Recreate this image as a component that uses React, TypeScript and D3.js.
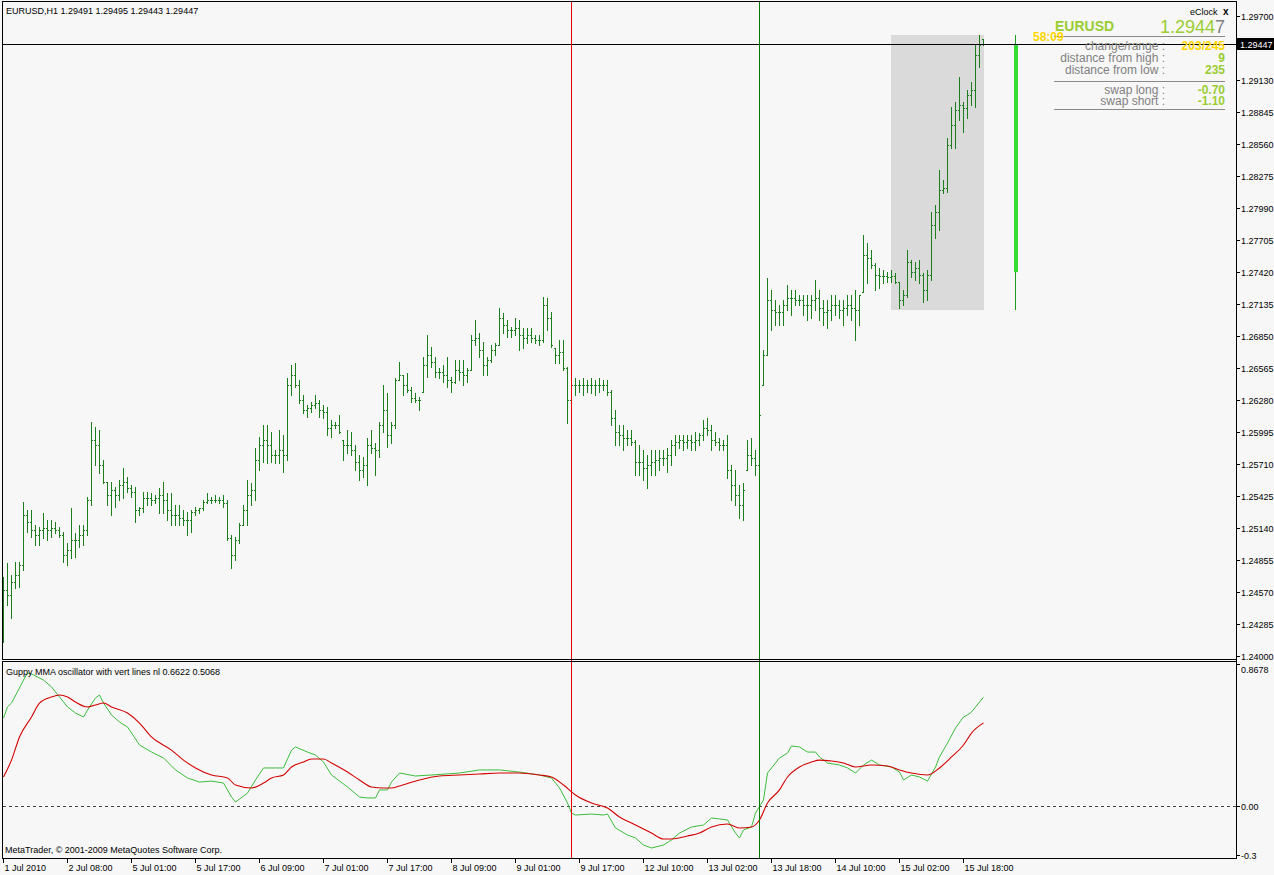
import React from 'react';
import * as d3 from 'd3';

// ---------------- DATA ----------------
const opens = [
1.24229,1.24586,1.24541,1.24657,1.24719,1.24809,1.25254,1.25192,1.25120,1.25076,
1.25120,1.25138,1.25120,1.25138,1.25120,1.25076,1.24898,1.24942,1.25031,1.25031,
1.25076,1.25120,1.25388,1.25922,1.25878,1.25700,1.25548,1.25432,1.25477,1.25432,
1.25521,1.25548,1.25494,1.25459,1.25299,1.25316,1.25405,1.25405,1.25388,1.25405,
1.25432,1.25388,1.25299,1.25254,1.25254,1.25227,1.25210,1.25210,1.25281,1.25299,
1.25316,1.25370,1.25388,1.25388,1.25388,1.25388,1.25361,1.25049,1.24898,1.25031,
1.25165,1.25299,1.25432,1.25477,1.25744,1.25878,1.25922,1.25878,1.25789,1.25789,
1.25833,1.25789,1.26412,1.26502,1.26412,1.26279,1.26190,1.26207,1.26234,1.26252,
1.26190,1.26172,1.26029,1.26056,1.26056,1.25922,1.25878,1.25878,1.25833,1.25726,
1.25655,1.25700,1.25878,1.25851,1.25833,1.26056,1.26190,1.25967,1.26056,1.26457,
1.26502,1.26412,1.26368,1.26296,1.26279,1.26350,1.26591,1.26680,1.26617,1.26528,
1.26528,1.26502,1.26457,1.26439,1.26546,1.26528,1.26502,1.26546,1.26813,1.26831,
1.26724,1.26591,1.26635,1.26724,1.26769,1.27009,1.26947,1.26903,1.26903,1.26920,
1.26858,1.26831,1.26858,1.26831,1.26813,1.26813,1.27125,1.27009,1.26742,1.26680,
1.26706,1.26564,1.26279,1.26412,1.26412,1.26412,1.26412,1.26412,1.26412,1.26412,
1.26412,1.26412,1.26350,1.26118,1.25994,1.25967,1.25940,1.25940,1.25904,1.25726,
1.25726,1.25673,1.25700,1.25726,1.25744,1.25762,1.25762,1.25789,1.25878,1.25904,
1.25922,1.25904,1.25922,1.25904,1.25922,1.25967,1.26029,1.26012,1.25922,1.25904,
1.25878,1.25878,1.25655,1.25521,1.25432,1.25343,1.25655,1.25789,1.25762,1.25700,
1.26412,1.26680,1.27170,1.27081,1.27063,1.27063,1.27125,1.27187,1.27187,1.27170,
1.27170,1.27125,1.27125,1.27170,1.27187,1.27099,1.27063,1.27081,1.27125,1.27125,
1.27081,1.27099,1.27125,1.27099,1.27081,1.27241,1.27571,1.27544,1.27482,1.27393,
1.27384,1.27384,1.27375,1.27384,1.27330,1.27170,1.27214,1.27508,1.27419,1.27455,
1.27393,1.27259,1.27393,1.27838,1.27954,1.28150,1.28168,1.28551,1.28729,1.28863,
1.28907,1.28880,1.28997,1.29041,1.29353,1.29491];

const highs = [
1.24701,1.24826,1.24719,1.24835,1.24835,1.25370,1.25299,1.25299,1.25165,1.25147,
1.25272,1.25210,1.25210,1.25192,1.25147,1.25102,1.25005,1.25316,1.25093,1.25165,
1.25165,1.25414,1.26083,1.26038,1.26012,1.25744,1.25548,1.25548,1.25503,1.25566,
1.25673,1.25593,1.25521,1.25503,1.25325,1.25459,1.25459,1.25450,1.25432,1.25494,
1.25548,1.25450,1.25450,1.25343,1.25343,1.25299,1.25281,1.25299,1.25325,1.25316,
1.25388,1.25450,1.25414,1.25432,1.25414,1.25432,1.25388,1.25076,1.25058,1.25183,
1.25343,1.25566,1.25539,1.25851,1.25949,1.26056,1.26056,1.25994,1.25833,1.26012,
1.25967,1.26475,1.26591,1.26608,1.26457,1.26323,1.26234,1.26261,1.26323,1.26279,
1.26234,1.26216,1.26101,1.26083,1.26145,1.25922,1.26012,1.25994,1.25878,1.25789,
1.25771,1.25940,1.26012,1.25895,1.26083,1.26412,1.26341,1.26083,1.26475,1.26617,
1.26502,1.26519,1.26394,1.26341,1.26306,1.26662,1.26858,1.26751,1.26662,1.26564,
1.26591,1.26662,1.26484,1.26635,1.26635,1.26635,1.26564,1.26858,1.26992,1.26876,
1.26795,1.26662,1.26769,1.26786,1.27099,1.27054,1.26992,1.26929,1.27009,1.26992,
1.26920,1.26920,1.26920,1.26858,1.26858,1.27196,1.27187,1.27063,1.26742,1.26813,
1.26813,1.26573,1.26502,1.26475,1.26457,1.26475,1.26457,1.26475,1.26457,1.26475,
1.26457,1.26457,1.26368,1.26190,1.26056,1.26056,1.26012,1.26012,1.25922,1.25878,
1.25833,1.25789,1.25833,1.25833,1.25833,1.25833,1.25851,1.25922,1.25967,1.25967,
1.25967,1.25967,1.25967,1.25994,1.25985,1.26101,1.26118,1.26056,1.25994,1.25940,
1.25922,1.25967,1.25700,1.25655,1.25521,1.25539,1.25922,1.25940,1.25833,1.26190,
1.26724,1.27366,1.27259,1.27170,1.27125,1.27170,1.27304,1.27259,1.27259,1.27214,
1.27214,1.27214,1.27214,1.27348,1.27259,1.27170,1.27170,1.27214,1.27214,1.27170,
1.27170,1.27214,1.27214,1.27259,1.27214,1.27749,1.27678,1.27615,1.27499,1.27455,
1.27437,1.27419,1.27437,1.27410,1.27330,1.27259,1.27615,1.27526,1.27508,1.27526,
1.27410,1.27437,1.27954,1.28016,1.28328,1.28239,1.28613,1.28889,1.28934,1.29157,
1.28934,1.29041,1.29112,1.29442,1.29531,1.29495];

const lows = [
1.24122,1.24452,1.24336,1.24603,1.24612,1.24764,1.25102,1.25058,1.24987,1.24987,
1.25049,1.25031,1.25058,1.25093,1.25058,1.24835,1.24809,1.24871,1.24880,1.24969,
1.24987,1.25076,1.25343,1.25700,1.25628,1.25539,1.25343,1.25254,1.25325,1.25388,
1.25405,1.25459,1.25414,1.25192,1.25254,1.25281,1.25343,1.25343,1.25361,1.25272,
1.25272,1.25210,1.25165,1.25165,1.25165,1.25165,1.25076,1.25102,1.25254,1.25272,
1.25299,1.25361,1.25361,1.25370,1.25361,1.25325,1.25031,1.24782,1.24853,1.25005,
1.25165,1.25165,1.25343,1.25388,1.25655,1.25726,1.25717,1.25726,1.25717,1.25717,
1.25637,1.25744,1.26323,1.26394,1.26252,1.26163,1.26127,1.26172,1.26207,1.26127,
1.26118,1.25967,1.25949,1.26029,1.25985,1.25744,1.25806,1.25789,1.25655,1.25566,
1.25593,1.25521,1.25806,1.25611,1.25771,1.25994,1.25860,1.25895,1.26029,1.26457,
1.26323,1.26350,1.26261,1.26261,1.26190,1.26350,1.26484,1.26573,1.26484,1.26475,
1.26439,1.26394,1.26350,1.26430,1.26457,1.26412,1.26439,1.26546,1.26769,1.26662,
1.26502,1.26502,1.26617,1.26680,1.26769,1.26876,1.26840,1.26840,1.26858,1.26724,
1.26742,1.26786,1.26795,1.26786,1.26769,1.26795,1.26903,1.26751,1.26608,1.26608,
1.26546,1.26074,1.26190,1.26323,1.26350,1.26323,1.26350,1.26341,1.26323,1.26350,
1.26368,1.26323,1.26056,1.25878,1.25878,1.25833,1.25878,1.25878,1.25611,1.25611,
1.25566,1.25494,1.25611,1.25611,1.25655,1.25700,1.25637,1.25700,1.25789,1.25851,
1.25833,1.25851,1.25833,1.25833,1.25878,1.25922,1.25967,1.25833,1.25878,1.25833,
1.25833,1.25584,1.25388,1.25343,1.25227,1.25210,1.25655,1.25700,1.25611,1.25611,
1.26412,1.26680,1.26903,1.26947,1.26947,1.26947,1.27081,1.27036,1.27125,1.27125,
1.27036,1.26992,1.27009,1.27081,1.26992,1.26947,1.26920,1.26992,1.27036,1.27009,
1.26947,1.27036,1.26992,1.26813,1.26947,1.27241,1.27321,1.27455,1.27259,1.27277,
1.27321,1.27330,1.27330,1.27321,1.27099,1.27125,1.27196,1.27375,1.27348,1.27321,
1.27152,1.27170,1.27348,1.27722,1.27794,1.28123,1.28132,1.28524,1.28524,1.28774,
1.28667,1.28791,1.28907,1.28889,1.29246,1.29443];

const closes = [
1.24586,1.24541,1.24657,1.24719,1.24809,1.25254,1.25192,1.25120,1.25076,1.25120,
1.25138,1.25120,1.25138,1.25120,1.25076,1.24898,1.24942,1.25031,1.25031,1.25076,
1.25120,1.25388,1.25922,1.25878,1.25700,1.25548,1.25432,1.25477,1.25432,1.25521,
1.25548,1.25494,1.25459,1.25299,1.25316,1.25405,1.25405,1.25388,1.25405,1.25432,
1.25388,1.25299,1.25254,1.25254,1.25227,1.25210,1.25210,1.25281,1.25299,1.25316,
1.25370,1.25388,1.25388,1.25388,1.25388,1.25361,1.25049,1.24898,1.25031,1.25165,
1.25299,1.25432,1.25477,1.25744,1.25878,1.25922,1.25878,1.25789,1.25789,1.25833,
1.25789,1.26412,1.26502,1.26412,1.26279,1.26190,1.26207,1.26234,1.26252,1.26190,
1.26172,1.26029,1.26056,1.26056,1.25994,1.25878,1.25878,1.25833,1.25726,1.25655,
1.25700,1.25878,1.25851,1.25833,1.26056,1.26190,1.25967,1.26056,1.26457,1.26502,
1.26412,1.26368,1.26296,1.26279,1.26279,1.26591,1.26680,1.26617,1.26528,1.26528,
1.26502,1.26457,1.26439,1.26546,1.26528,1.26502,1.26546,1.26813,1.26831,1.26724,
1.26591,1.26635,1.26724,1.26769,1.27009,1.26947,1.26903,1.26903,1.26920,1.26858,
1.26831,1.26858,1.26831,1.26813,1.26813,1.27125,1.27009,1.26769,1.26680,1.26706,
1.26564,1.26279,1.26412,1.26412,1.26412,1.26412,1.26412,1.26412,1.26412,1.26412,
1.26412,1.26350,1.26118,1.25994,1.25967,1.25940,1.25940,1.25904,1.25726,1.25726,
1.25673,1.25700,1.25726,1.25744,1.25762,1.25762,1.25789,1.25878,1.25904,1.25922,
1.25904,1.25922,1.25904,1.25922,1.25967,1.26029,1.26012,1.25922,1.25904,1.25878,
1.25878,1.25655,1.25521,1.25432,1.25343,1.25477,1.25789,1.25762,1.25700,1.26145,
1.26680,1.27170,1.27081,1.27063,1.27063,1.27125,1.27187,1.27187,1.27170,1.27170,
1.27125,1.27125,1.27170,1.27187,1.27099,1.27063,1.27081,1.27125,1.27125,1.27081,
1.27099,1.27125,1.27099,1.27081,1.27214,1.27571,1.27544,1.27482,1.27393,1.27384,
1.27384,1.27375,1.27384,1.27330,1.27170,1.27214,1.27508,1.27419,1.27455,1.27393,
1.27259,1.27393,1.27838,1.27954,1.28150,1.28168,1.28551,1.28729,1.28863,1.28907,
1.28880,1.28997,1.29041,1.29353,1.29442,1.29447];

const timeLabels = ['1 Jul 2010','2 Jul 08:00','5 Jul 01:00','5 Jul 17:00','6 Jul 09:00','7 Jul 01:00',
  '7 Jul 17:00','8 Jul 09:00','9 Jul 01:00','9 Jul 17:00','12 Jul 10:00','13 Jul 02:00',
  '13 Jul 18:00','14 Jul 10:00','15 Jul 02:00','15 Jul 18:00'];
const timeLabelIdx = [0,16,32,48,64,80,96,112,128,144,160,176,192,208,224,240];

// price-scale labels (the 1.29415 label sits hidden under the current-price box)
const priceTicks = [1.29700,1.29130,1.28845,1.28560,1.28275,1.27990,1.27705,1.27420,1.27135,
  1.26850,1.26565,1.26280,1.25995,1.25710,1.25425,1.25140,1.24855,1.24570,1.24285,1.24000];

// Guppy MMA oscillator (green fast, red slow), read at bar indices
const greenIdx = [0,1,2,4,5,6,7,10,12,14,16,18,20,21,23,24,25,27,29,31,34,37,40,43,46,49,52,55,57,58,
  61,63,65,68,70,72,73,76,78,80,82,86,89,91,93,94,96,97,99,103,107,114,119,124,129,134,137,139,141,142,
  143,147,150,151,153,156,158,160,162,165,167,169,172,175,177,179,181,183,184,185,187,188,190,191,194,196,197,199,201,203,
  204,206,209,211,213,215,217,219,222,224,225,227,229,231,233,234,236,238,240,241,242,244,245];
const greenVals = [0.537,0.604,0.628,0.72,0.768,0.811,0.805,0.768,0.726,0.665,0.604,0.567,0.543,0.585,0.659,0.677,0.628,0.555,0.512,0.482,
  0.372,0.329,0.293,0.22,0.171,0.146,0.152,0.14,0.055,0.024,0.079,0.159,0.232,0.232,0.232,0.341,0.36,0.329,0.311,0.268,
  0.189,0.116,0.055,0.049,0.049,0.098,0.098,0.146,0.201,0.183,0.189,0.201,0.22,0.22,0.207,0.189,0.171,0.11,0.018,-0.043,
  -0.055,-0.049,-0.055,-0.049,-0.134,-0.177,-0.195,-0.238,-0.256,-0.238,-0.207,-0.165,-0.128,-0.116,-0.073,-0.079,-0.085,-0.165,-0.195,-0.146,
  -0.128,-0.043,0.037,0.201,0.293,0.323,0.366,0.36,0.329,0.329,0.299,0.262,0.25,0.232,0.201,0.25,0.28,0.25,0.238,0.207,
  0.159,0.189,0.177,0.152,0.238,0.299,0.384,0.476,0.543,0.555,0.573,0.634,0.6622];
const redIdx = [0,2,4,7,9,12,14,16,18,21,23,25,27,31,34,37,42,45,48,52,56,58,62,65,67,70,72,75,77,80,
  82,86,89,92,95,97,99,104,109,114,119,124,129,134,137,140,143,147,151,154,157,162,165,167,171,174,177,181,184,187,
  189,191,194,196,199,202,204,207,210,213,217,221,224,227,231,234,237,240,242,245];
const redVals = [0.177,0.28,0.421,0.543,0.628,0.665,0.677,0.665,0.634,0.604,0.616,0.628,0.604,0.567,0.506,0.421,0.341,0.28,0.232,0.189,
  0.171,0.128,0.11,0.14,0.171,0.189,0.238,0.268,0.287,0.287,0.262,0.207,0.159,0.116,0.11,0.11,0.122,0.159,0.183,0.189,
  0.195,0.201,0.201,0.189,0.177,0.128,0.067,0.018,-0.012,-0.067,-0.104,-0.165,-0.201,-0.201,-0.183,-0.165,-0.128,-0.11,-0.134,-0.128,
  -0.085,0.018,0.098,0.177,0.238,0.268,0.28,0.274,0.262,0.238,0.25,0.244,0.22,0.201,0.189,0.232,0.299,0.372,0.445,0.5068];
const oscTicks = [0.8678, 0, -0.3];
const oscTickLabels = ['0.8678', '0.00', '-0.3'];

const redLineIdx = 142;
const greenLineIdx = 189;
const dayStartIdx = 222;
const dayCandleIdx = 253;
const dayOpen = 1.27419, dayHigh = 1.29531, dayLow = 1.27081, dayClose = 1.29447;
const bid = 1.29447;

const titleText = 'EURUSD,H1  1.29491 1.29495 1.29443 1.29447';
const oscTitle = 'Guppy MMA oscillator with vert lines nl 0.6622 0.5068';
const copyright = 'MetaTrader, \u00A9 2001-2009 MetaQuotes Software Corp.';
const infoLabels = ['change/range :', 'distance from high :', 'distance from low :', 'swap long :', 'swap short :'];
const infoValues = ['203/245', '9', '235', '-0.70', '-1.10'];
const timerText = '58:09';

// ---------------- CHART ----------------
const FONT = '"Liberation Sans", Arial, sans-serif';
const BG = '#f7f7f7';
const BAR = '#1b7d1b';
const YG = '#9acd32';
const GOLD = '#ffd700';

export default function App() {
  const n = closes.length;
  const x = d3.scaleLinear().domain([0, 245]).range([3, 983]);
  const y = d3.scaleLinear().domain([1.24, 1.297]).range([656, 16]);
  const yo = d3.scaleLinear().domain([-0.3, 0.8678]).range([855.2, 663.7]);

  const gLine = d3.line<number>().x((d, k) => x(greenIdx[k]) + 0.5).y(d => yo(d));
  const rLine = d3.line<number>().x((d, k) => x(redIdx[k]) + 0.5).y(d => yo(d)).curve(d3.curveMonotoneX);

  const bars = d3.range(n).map(i => {
    const xi = Math.round(x(i));
    const yh = Math.round(y(highs[i]));
    const yl = Math.round(y(lows[i]));
    const yop = Math.round(y(opens[i]));
    const yc = Math.round(y(closes[i]));
    return (
      <g key={i}>
        <rect x={xi} y={yh} width={1} height={Math.max(1, yl - yh + 1)} fill={BAR} />
        <rect x={xi - 1} y={yop} width={1} height={1} fill={BAR} />
        <rect x={xi + 1} y={yc} width={1} height={1} fill={BAR} />
      </g>
    );
  });

  const bidY = Math.round(y(bid)) + 0.5;
  const dayX0 = x(dayStartIdx);
  const dayX1 = x(n - 1) + 1;
  const dcx = Math.round(x(dayCandleIdx));

  return (
    <svg width={1274} height={875} style={{ position: 'absolute', left: 0, top: 0, fontFamily: FONT }}>
      <defs>
        <clipPath id="mainClip"><rect x={3} y={2} width={1233} height={657} /></clipPath>
        <clipPath id="oscClip"><rect x={3} y={662} width={1233} height={196} /></clipPath>
      </defs>
      <rect x={0} y={0} width={1274} height={875} fill={BG} />

      {/* main panel */}
      <g clipPath="url(#mainClip)">
        <rect x={dayX0} y={y(dayHigh)} width={dayX1 - dayX0} height={y(dayLow) - y(dayHigh)} fill="#dadada" />
        {bars}
        <line x1={dcx + 0.5} x2={dcx + 0.5} y1={y(dayHigh)} y2={y(dayLow)} stroke="#1f9a1f" strokeWidth={1} />
        <rect x={dcx - 1} y={y(dayClose)} width={4} height={y(dayOpen) - y(dayClose)} fill="#33dd33" />
        <line x1={2} x2={1236} y1={bidY} y2={bidY} stroke="#000" strokeWidth={1} />
      </g>

      {/* oscillator */}
      <g clipPath="url(#oscClip)">
        <line x1={3} x2={1236} y1={Math.round(yo(0)) + 0.5} y2={Math.round(yo(0)) + 0.5} stroke="#444" strokeDasharray="3,3" strokeWidth={1} />
        <path d={gLine(greenVals) || ''} fill="none" stroke="#3cbc3c" strokeWidth={1} />
        <path d={rLine(redVals) || ''} fill="none" stroke="#d40000" strokeWidth={1.1} />
      </g>

      {/* vertical marker lines */}
      <line x1={Math.round(x(redLineIdx)) + 0.5} x2={Math.round(x(redLineIdx)) + 0.5} y1={2} y2={858} stroke="#ee0000" strokeWidth={1} />
      <line x1={Math.round(x(greenLineIdx)) + 0.5} x2={Math.round(x(greenLineIdx)) + 0.5} y1={2} y2={858} stroke="#007a00" strokeWidth={1} />

      {/* frames */}
      <line x1={2} x2={1237} y1={1.5} y2={1.5} stroke="#000" />
      <line x1={2.5} x2={2.5} y1={1} y2={659} stroke="#000" />
      <line x1={2} x2={1237} y1={659.5} y2={659.5} stroke="#000" />
      <line x1={2} x2={1237} y1={661.5} y2={661.5} stroke="#000" />
      <line x1={2.5} x2={2.5} y1={661} y2={859} stroke="#000" />
      <line x1={2} x2={1237} y1={858.5} y2={858.5} stroke="#000" />
      <line x1={1236.5} x2={1236.5} y1={1} y2={859} stroke="#000" />

      {/* price axis */}
      {priceTicks.map((p, k) => {
        const yy = Math.round(y(p)) + 0.5;
        return (
          <g key={k}>
            <line x1={1236} x2={1240} y1={yy} y2={yy} stroke="#000" />
            <text x={1241} y={yy + 3.5} fontSize={9} fill="#000">{p.toFixed(5)}</text>
          </g>
        );
      })}
      <rect x={1237} y={bidY - 6.5} width={37} height={12} fill="#000" />
      <text x={1240} y={bidY + 3.5} fontSize={9} fill="#fff">{bid.toFixed(5)}</text>

      {/* oscillator axis */}
      {oscTicks.map((v, k) => {
        const yy = Math.round(yo(v)) + 0.5;
        return (
          <g key={k}>
            <line x1={1236} x2={1240} y1={yy} y2={yy} stroke="#000" />
            <text x={1241} y={k === 0 ? yy + 8 : yy + 3.5} fontSize={9} fill="#000">{oscTickLabels[k]}</text>
          </g>
        );
      })}

      {/* time axis */}
      {timeLabelIdx.map((idx, k) => {
        const xx = Math.round(x(idx)) + 0.5;
        return (
          <g key={k}>
            <line x1={xx} x2={xx} y1={858} y2={863} stroke="#000" />
            <text x={xx + 1} y={871} fontSize={9} fill="#000">{timeLabels[k]}</text>
          </g>
        );
      })}

      {/* titles */}
      <text x={6} y={14} fontSize={9} fill="#000">{titleText}</text>
      <text x={6} y={675} fontSize={9} fill="#000">{oscTitle}</text>
      <text x={5} y={853} fontSize={9} fill="#000">{copyright}</text>

      {/* eClock panel */}
      <text x={1190} y={15} fontSize={9} fill="#000">eClock</text>
      <text x={1223} y={15} fontSize={10} fontWeight="bold" fill="#000">x</text>
      <text x={1055} y={31} fontSize={14} fontWeight="bold" fill={YG}>EURUSD</text>
      <text x={1225} y={33} fontSize={18} textAnchor="end">
        <tspan fill={YG}>{bid.toFixed(5).slice(0, -1)}</tspan>
        <tspan fill="#808080">{bid.toFixed(5).slice(-1)}</tspan>
      </text>
      <line x1={1054} x2={1225} y1={36.5} y2={36.5} stroke="#8a8a8a" />
      <text x={1033} y={41} fontSize={12} fontWeight="bold" fill={GOLD}>{timerText}</text>
      {infoLabels.map((lab, k) => {
        const yy = [50, 62, 73.5, 93.5, 105][k];
        return (
          <g key={k}>
            <text x={1165} y={yy} fontSize={12} textAnchor="end" fill="#808080">{lab}</text>
            <text x={1225} y={yy} fontSize={12} textAnchor="end" fontWeight="bold" fill={k === 0 ? GOLD : YG}>{infoValues[k]}</text>
          </g>
        );
      })}
      <line x1={1054} x2={1225} y1={81.5} y2={81.5} stroke="#8a8a8a" />
      <line x1={1054} x2={1225} y1={109.5} y2={109.5} stroke="#8a8a8a" />
    </svg>
  );
}
